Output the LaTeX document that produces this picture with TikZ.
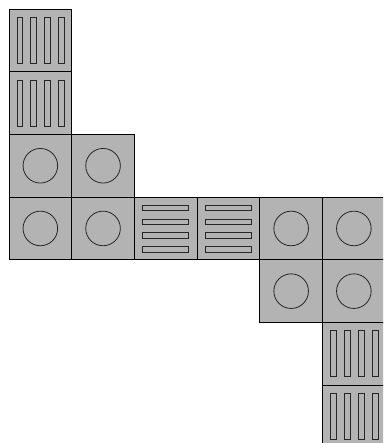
\documentclass[tikz,border=0pt]{standalone}
\definecolor{tilegray}{RGB}{179,179,179}
\tikzset{
  tile/.style={fill=tilegray, draw=black, line width=0.8pt},
  bar/.style={draw=black!85, line width=0.8pt},
  circtile/.pic={
    \path[tile] (0,0) rectangle (62.7,62.7);
    \draw[bar] (31.35,31.35) circle (17.3);
  },
  vtile/.pic={
    \path[tile] (0,0) rectangle (62.7,62.7);
    \foreach \i in {0,...,3}
      \draw[bar] (7.9+\i*13.9,8.3) rectangle ++(5.8,46);
  },
  htile/.pic={
    \path[tile] (0,0) rectangle (62.7,62.7);
    \foreach \i in {0,...,3}
      \draw[bar] (8.3,7.9+\i*13.9) rectangle ++(46,5.8);
  }
}
\begin{document}
\begin{tikzpicture}[x=1pt,y=-1pt]
\useasboundingbox (0,0) rectangle (383,443);
\clip (0,0) rectangle (383,443);
\def\s{62.7}
\pic at (9+0*\s,9+0*\s) {vtile};
\pic at (9+0*\s,9+1*\s) {vtile};
\pic at (9+0*\s,9+2*\s) {circtile};
\pic at (9+1*\s,9+2*\s) {circtile};
\pic at (9+0*\s,9+3*\s) {circtile};
\pic at (9+1*\s,9+3*\s) {circtile};
\pic at (9+2*\s,9+3*\s) {htile};
\pic at (9+3*\s,9+3*\s) {htile};
\pic at (9+4*\s,9+3*\s) {circtile};
\pic at (9+5*\s,9+3*\s) {circtile};
\pic at (9+4*\s,9+4*\s) {circtile};
\pic at (9+5*\s,9+4*\s) {circtile};
\pic at (9+5*\s,9+5*\s) {vtile};
\pic at (9+5*\s,9+6*\s) {vtile};
\end{tikzpicture}
\end{document}
